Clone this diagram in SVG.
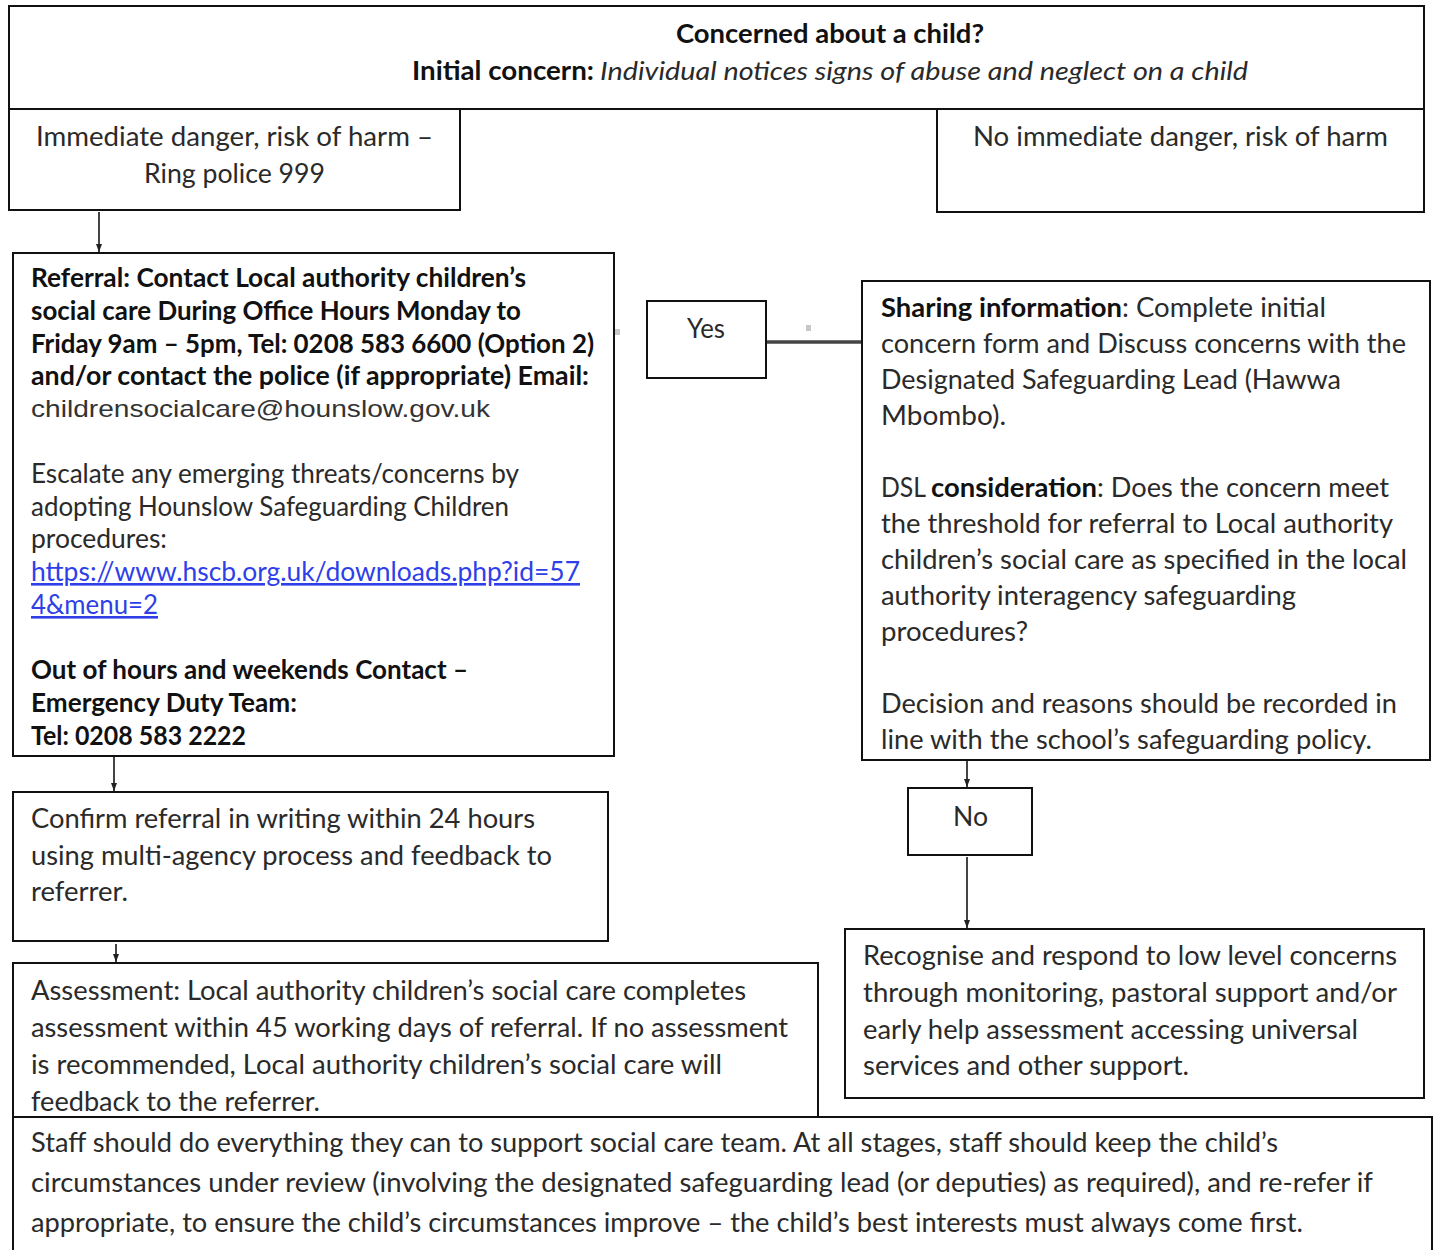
<svg xmlns="http://www.w3.org/2000/svg" width="1434" height="1250" viewBox="0 0 1434 1250">
<defs>
<style>
.box{fill:#fff;stroke:#111;stroke-width:2}
.t{font-family:Lato,"Open Sans","DejaVu Sans",sans-serif;font-size:26px;fill:#2a2a2a}
.b{font-weight:bold;fill:#111}
.i{font-style:italic}
.mail{font-family:"Liberation Sans",Arial,sans-serif;font-size:24px;fill:#333}
.link{fill:#2f3fe8;text-decoration:underline}
.c{stroke:#444;stroke-width:2;fill:none}
.dot{fill:#c8c8c8}
</style>
<marker id="ah" markerWidth="8" markerHeight="6" refX="8" refY="3" orient="auto" markerUnits="userSpaceOnUse">
<path d="M0,0 L8,3 L0,6 Z" fill="#222"/>
</marker>
</defs>
<rect width="1434" height="1250" fill="#fff"/>

<g id="connectors">
<line class="c" x1="99" y1="212" x2="99" y2="252" marker-end="url(#ah)"/>
<line class="c" x1="114" y1="757" x2="114" y2="791" marker-end="url(#ah)"/>
<line class="c" x1="116" y1="944" x2="116" y2="962" marker-end="url(#ah)"/>
<line x1="766" y1="342" x2="862" y2="342" stroke="#444" stroke-width="3.5"/>
<line class="c" x1="967" y1="745" x2="967" y2="787" marker-end="url(#ah)"/>
<line class="c" x1="967" y1="857" x2="967" y2="928" marker-end="url(#ah)"/>
<rect class="dot" x="615" y="329" width="5" height="6"/>
<rect class="dot" x="806" y="325" width="5" height="6"/>
</g>

<g id="top">
<rect class="box" x="9" y="6" width="1415" height="103"/>
<text class="t b" x="676" y="43" textLength="308" lengthAdjust="spacingAndGlyphs">Concerned about a child?</text>
<text class="t b" x="412" y="80" textLength="182" lengthAdjust="spacingAndGlyphs">Initial concern:</text>
<text class="t i" x="600" y="80" textLength="648" lengthAdjust="spacingAndGlyphs">Individual notices signs of abuse and neglect on a child</text>
</g>

<g id="danger">
<rect class="box" x="9" y="109" width="451" height="101"/>
<text class="t" x="36" y="146" textLength="397" lengthAdjust="spacingAndGlyphs">Immediate danger, risk of harm –</text>
<text class="t" x="144" y="183" textLength="181" lengthAdjust="spacingAndGlyphs">Ring police 999</text>
</g>

<g id="nodanger">
<rect class="box" x="937" y="109" width="487" height="103"/>
<text class="t" x="973" y="146" textLength="415" lengthAdjust="spacingAndGlyphs">No immediate danger, risk of harm</text>
</g>

<g id="referral">
<rect class="box" x="13" y="253" width="601" height="503"/>
<text class="t b" x="31" y="287" textLength="495" lengthAdjust="spacingAndGlyphs">Referral: Contact Local authority children’s</text>
<text class="t b" x="31" y="320" textLength="490" lengthAdjust="spacingAndGlyphs">social care During Office Hours Monday to</text>
<text class="t b" x="31" y="353" textLength="563" lengthAdjust="spacingAndGlyphs">Friday 9am – 5pm, Tel: 0208 583 6600 (Option 2)</text>
<text class="t b" x="31" y="385" textLength="558" lengthAdjust="spacingAndGlyphs">and/or contact the police (if appropriate) Email:</text>
<text class="mail" x="31" y="417" textLength="459" lengthAdjust="spacingAndGlyphs">childrensocialcare@hounslow.gov.uk</text>
<text class="t" x="31" y="483" textLength="488" lengthAdjust="spacingAndGlyphs">Escalate any emerging threats/concerns by</text>
<text class="t" x="31" y="516" textLength="478" lengthAdjust="spacingAndGlyphs">adopting Hounslow Safeguarding Children</text>
<text class="t" x="31" y="548" textLength="136" lengthAdjust="spacingAndGlyphs">procedures:</text>
<text class="t link" x="31" y="581" textLength="549" lengthAdjust="spacingAndGlyphs">https://www.hscb.org.uk/downloads.php?id=57</text>
<text class="t link" x="31" y="614" textLength="127" lengthAdjust="spacingAndGlyphs">4&amp;menu=2</text>
<text class="t b" x="31" y="679" textLength="437" lengthAdjust="spacingAndGlyphs">Out of hours and weekends Contact –</text>
<text class="t b" x="31" y="712" textLength="266" lengthAdjust="spacingAndGlyphs">Emergency Duty Team:</text>
<text class="t b" x="31" y="745" textLength="215" lengthAdjust="spacingAndGlyphs">Tel: 0208 583 2222</text>
</g>

<g id="yes">
<rect class="box" x="647" y="301" width="119" height="77"/>
<text class="t" x="687" y="338" textLength="38" lengthAdjust="spacingAndGlyphs">Yes</text>
</g>

<g id="sharing">
<rect class="box" x="862" y="281" width="568" height="479"/>
<text class="t b" x="881" y="317" textLength="241" lengthAdjust="spacingAndGlyphs">Sharing information</text>
<text class="t" x="1122" y="317" textLength="204" lengthAdjust="spacingAndGlyphs">: Complete initial</text>
<text class="t" x="881" y="353" textLength="525" lengthAdjust="spacingAndGlyphs">concern form and Discuss concerns with the</text>
<text class="t" x="881" y="389" textLength="460" lengthAdjust="spacingAndGlyphs">Designated Safeguarding Lead (Hawwa</text>
<text class="t" x="881" y="425" textLength="125" lengthAdjust="spacingAndGlyphs">Mbombo).</text>
<text class="t" x="881" y="497" textLength="45" lengthAdjust="spacingAndGlyphs">DSL</text>
<text class="t b" x="931" y="497" textLength="166" lengthAdjust="spacingAndGlyphs">consideration</text>
<text class="t" x="1097" y="497" textLength="292" lengthAdjust="spacingAndGlyphs">: Does the concern meet</text>
<text class="t" x="881" y="533" textLength="512" lengthAdjust="spacingAndGlyphs">the threshold for referral to Local authority</text>
<text class="t" x="881" y="569" textLength="526" lengthAdjust="spacingAndGlyphs">children’s social care as specified in the local</text>
<text class="t" x="881" y="605" textLength="415" lengthAdjust="spacingAndGlyphs">authority interagency safeguarding</text>
<text class="t" x="881" y="641" textLength="147" lengthAdjust="spacingAndGlyphs">procedures?</text>
<text class="t" x="881" y="713" textLength="516" lengthAdjust="spacingAndGlyphs">Decision and reasons should be recorded in</text>
<text class="t" x="881" y="749" textLength="491" lengthAdjust="spacingAndGlyphs">line with the school’s safeguarding policy.</text>
</g>

<g id="no">
<rect class="box" x="908" y="788" width="124" height="67"/>
<text class="t" x="953" y="826" textLength="35" lengthAdjust="spacingAndGlyphs">No</text>
</g>

<g id="confirm">
<rect class="box" x="13" y="792" width="595" height="149"/>
<text class="t" x="31" y="828" textLength="504" lengthAdjust="spacingAndGlyphs">Confirm referral in writing within 24 hours</text>
<text class="t" x="31" y="865" textLength="521" lengthAdjust="spacingAndGlyphs">using multi-agency process and feedback to</text>
<text class="t" x="31" y="901" textLength="97" lengthAdjust="spacingAndGlyphs">referrer.</text>
</g>

<g id="recognise">
<rect class="box" x="845" y="929" width="579" height="169"/>
<text class="t" x="863" y="965" textLength="534" lengthAdjust="spacingAndGlyphs">Recognise and respond to low level concerns</text>
<text class="t" x="863" y="1002" textLength="534" lengthAdjust="spacingAndGlyphs">through monitoring, pastoral support and/or</text>
<text class="t" x="863" y="1039" textLength="495" lengthAdjust="spacingAndGlyphs">early help assessment accessing universal</text>
<text class="t" x="863" y="1075" textLength="326" lengthAdjust="spacingAndGlyphs">services and other support.</text>
</g>

<g id="assessment">
<rect class="box" x="13" y="963" width="805" height="154"/>
<text class="t" x="31" y="1000" textLength="715" lengthAdjust="spacingAndGlyphs">Assessment: Local authority children’s social care completes</text>
<text class="t" x="31" y="1037" textLength="757" lengthAdjust="spacingAndGlyphs">assessment within 45 working days of referral. If no assessment</text>
<text class="t" x="31" y="1074" textLength="691" lengthAdjust="spacingAndGlyphs">is recommended, Local authority children’s social care will</text>
<text class="t" x="31" y="1111" textLength="289" lengthAdjust="spacingAndGlyphs">feedback to the referrer.</text>
</g>

<g id="staff">
<rect class="box" x="13" y="1117" width="1419" height="140"/>
<text class="t" x="31" y="1152" textLength="1247" lengthAdjust="spacingAndGlyphs">Staff should do everything they can to support social care team. At all stages, staff should keep the child’s</text>
<text class="t" x="31" y="1192" textLength="1342" lengthAdjust="spacingAndGlyphs">circumstances under review (involving the designated safeguarding lead (or deputies) as required), and re-refer if</text>
<text class="t" x="31" y="1232" textLength="1272" lengthAdjust="spacingAndGlyphs">appropriate, to ensure the child’s circumstances improve – the child’s best interests must always come first.</text>
</g>
</svg>
